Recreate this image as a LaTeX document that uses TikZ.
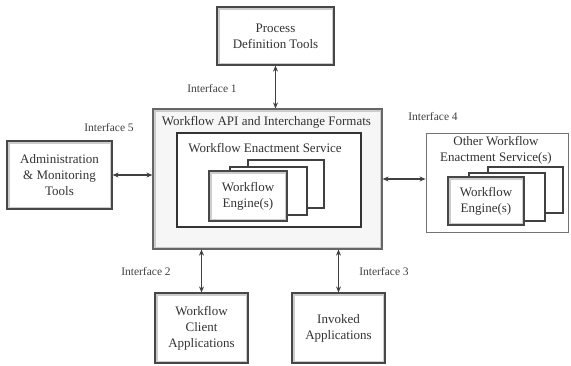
\documentclass[tikz,border=0pt]{standalone}
\usepackage{fontspec}
\setmainfont{Liberation Serif}
\usetikzlibrary{positioning,arrows.meta}

\tikzset{
  bevel/.style={draw=black!72, line width=1.2pt, fill=white, align=center,
    path picture={\draw[gray!40, line width=5pt]
      (path picture bounding box.south west) rectangle (path picture bounding box.north east);}},
  tool/.style={bevel, font=\fontsize{13}{16}\selectfont, text=black!80},
  apibox/.style={bevel, draw=black!60, fill=gray!7},
  wesbox/.style={draw=black!80, line width=1.2pt, fill=white},
  otherbox/.style={draw=black!55, line width=0.9pt, fill=white},
  card/.style={draw=black!75, line width=1.2pt, fill=white},
  title/.style={font=\fontsize{13}{16}\selectfont, text=black!80, align=center},
  iface/.style={font=\fontsize{11.5}{14}\selectfont, text=black!75},
  link/.style={{Stealth[length=6pt,width=5pt]}-{Stealth[length=6pt,width=5pt]},
    line width=1.5pt, draw=black!75}
}

\begin{document}
\begin{tikzpicture}[x=1pt,y=-1pt]
 \useasboundingbox (0,0) rectangle (571,365);
 % central block
 \node[apibox, minimum width=229pt, minimum height=140pt] (api) at (267.5,179) {};
 \node[title] (api_t) at (266.5,122) {Workflow API and Interchange Formats};
 \node[wesbox, minimum width=184pt, minimum height=94pt] (wes) at (269,180) {};
 \node[title] (wes_t) at (265,148) {Workflow Enactment Service};
 \node[card, minimum width=76pt, minimum height=48pt] (eng_c) at (286,184) {};
 \node[card, minimum width=77pt, minimum height=48pt] (eng_b) at (268.5,191) {};
 \node[tool, minimum width=78pt, minimum height=50pt] (eng_a) at (248,196) {Workflow\\Engine(s)};
 % tools round it
 \node[tool, minimum width=117pt, minimum height=58pt] (pdt) at (275.5,36) {Process\\Definition Tools};
 \node[tool, minimum width=105pt, minimum height=68pt] (admin) at (59.5,175) {Administration\\\& Monitoring\\Tools};
 \node[tool, minimum width=93pt, minimum height=70pt] (client) at (201.5,328) {Workflow\\Client\\Applications};
 \node[tool, minimum width=93pt, minimum height=70pt] (invoked) at (338.5,328) {Invoked\\Applications};
 % other enactment services
 \node[otherbox, minimum width=142pt, minimum height=99pt] (other) at (497,182.5) {};
 \node[title] (other_t) at (496,150) {Other Workflow\\Enactment Service(s)};
 \node[card, minimum width=75pt, minimum height=46pt] (oeng_c) at (525.5,190) {};
 \node[card, minimum width=76pt, minimum height=48pt] (oeng_b) at (507,197) {};
 \node[tool, minimum width=76pt, minimum height=48pt] (oeng_a) at (486,201) {Workflow\\Engine(s)};
 % interfaces
 \draw[link] (pdt) -- (pdt |- api.north);
 \draw[link] (admin.east) -- (admin.east -| api.west);
 \draw[link] (api.east) -- (api.east -| other.west);
 \draw[link] (client) -- (client |- api.south);
 \draw[link] (invoked) -- (invoked |- api.south);
 \node[iface] (if1) at (212,89) {Interface 1};
 \node[iface] (if5) at (109,128) {Interface 5};
 \node[iface] (if4) at (433,117) {Interface 4};
 \node[iface] (if2) at (146,272) {Interface 2};
 \node[iface] (if3) at (384,272) {Interface 3};
\end{tikzpicture}
\end{document}
